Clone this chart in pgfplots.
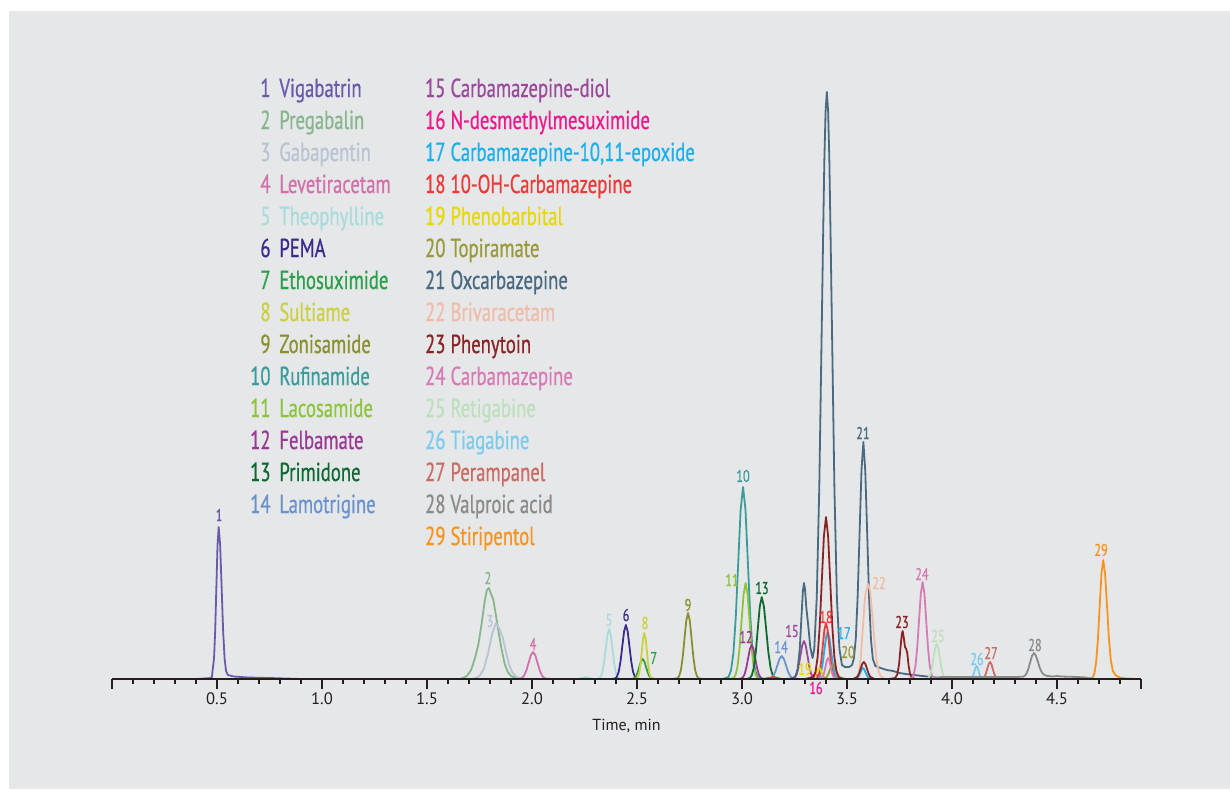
\documentclass[border=0pt]{standalone}
\usepackage{pgfplots}
\pgfplotsset{compat=1.18}
\usepackage{fontspec}
\setmainfont{PT Sans}
\newfontfamily\cond[FakeStretch=0.72,FakeBold=0.7]{PT Sans}

\definecolor{bg}{HTML}{E6E7E8}
\definecolor{ink}{HTML}{231F20}
\definecolor{c1}{HTML}{6A5AAA}
\definecolor{c2}{HTML}{86B58E}
\definecolor{c3}{HTML}{B8C4D4}
\definecolor{c4}{HTML}{D370AC}
\definecolor{c5}{HTML}{A8DCDC}
\definecolor{c6}{HTML}{3A2A8C}
\definecolor{c7}{HTML}{2BA04A}
\definecolor{c8}{HTML}{CCD040}
\definecolor{c9}{HTML}{8A9030}
\definecolor{c10}{HTML}{3A9C9C}
\definecolor{c11}{HTML}{8CC43C}
\definecolor{c12}{HTML}{9A3A94}
\definecolor{c13}{HTML}{0E6A32}
\definecolor{c14}{HTML}{6A92CC}
\definecolor{c15}{HTML}{9A4A9A}
\definecolor{c16}{HTML}{EC1A8C}
\definecolor{c17}{HTML}{1AB0EC}
\definecolor{c18}{HTML}{EC3A3A}
\definecolor{c19}{HTML}{E6D800}
\definecolor{c20}{HTML}{9A9A3A}
\definecolor{c21}{HTML}{4A6A82}
\definecolor{c22}{HTML}{F0BCA8}
\definecolor{c23}{HTML}{8A2424}
\definecolor{c24}{HTML}{D87AB4}
\definecolor{c25}{HTML}{BCE0BC}
\definecolor{c26}{HTML}{7ACCEE}
\definecolor{c27}{HTML}{CC6A64}
\definecolor{c28}{HTML}{8A8A8A}
\definecolor{c29}{HTML}{F7941D}

\newcommand{\legfont}{\cond\fontsize{13}{15}\selectfont}
\newcommand{\pkfont}{\cond\fontsize{8.5}{9}\selectfont}
% colour, x of number (east), x of name (west), y baseline, number, name
\newcommand{\legitem}[6]{%
  \node[anchor=base east,text=#1,font=\legfont,inner sep=0pt] at (axis cs:#2,#4) {#5};%
  \node[anchor=base west,text=#1,font=\legfont,inner sep=0pt] at (axis cs:#3,#4) {#6};}
\newcommand{\pk}[4]{\node[text=#1,font=\pkfont,inner sep=0pt] at (axis cs:#2,#3) {#4};}

\begin{document}
\begin{tikzpicture}
% page and grey panel (1 px = 0.5 pt, axis origin at pixel 112,679)
\fill[white] (-56pt,-55pt) rectangle (559pt,339.5pt);
\fill[bg] (-51.5pt,-55pt) rectangle (559pt,334pt);
\begin{axis}[
  at={(0,0)}, anchor=south west,
  x=105pt, y=0.5pt,
  xmin=0, xmax=4.9, ymin=0, ymax=600,
  axis x line*=bottom, axis y line=none,
  axis on top, clip=false,
  axis line style={line width=1.1pt, ink},
  tick align=outside,
  major tick length=5pt, minor tick length=2.5pt,
  tick style={line width=0.75pt, ink},
  xtick={0.5,1,1.5,2,2.5,3,3.5,4,4.5},
  xticklabels={0.5,1.0,1.5,2.0,2.5,3.0,3.5,4.0,4.5},
  extra x ticks={0,4.9}, extra x tick labels={},
  minor xtick={0,0.1,...,4.9},
  xticklabel style={font=\fontsize{8.3}{9}\selectfont, text=ink, yshift=1.8pt},
  xlabel={Time, min},
  xlabel style={at={(axis cs:2.45,-47)}, anchor=center, font=\fontsize{8}{9}\selectfont, text=ink},
  every axis plot/.append style={line width=0.9pt, line join=round},
]
% 1 Vigabatrin
\addplot[c1] coordinates {(0.40,0)(0.475,1)(0.486,21)(0.4915,49)(0.497,92)(0.5025,134)(0.508,152)(0.515,134)(0.522,92)(0.529,49)(0.536,21)(0.543,8)(0.552,4)(0.58,2.5)(0.65,1.5)(0.75,1)(0.9,0)(1.0,0)};
% 2 Pregabalin
\addplot[c2] coordinates {(1.60,0)(1.66,0)(1.69,3)(1.71,9)(1.73,22)(1.745,35)(1.76,55)(1.775,78)(1.785,89)(1.795,91)(1.805,85)(1.815,80)(1.825,68)(1.84,48)(1.855,30)(1.87,15)(1.885,7)(1.90,3)(1.93,0.5)(1.96,0)(2.0,0)};
% 3 Gabapentin
\addplot[c3] coordinates {(1.70,0)(1.72,0)(1.75,3)(1.77,10)(1.79,25)(1.81,45)(1.828,56)(1.845,50)(1.86,42)(1.875,28)(1.89,15)(1.905,7)(1.92,3)(1.95,0)(2.0,0)};
% 4 Levetiracetam
\addplot[c4] coordinates {(1.92,0)(1.942,0.3)(1.9525,1.2)(1.963,3.6)(1.9735,8.8)(1.984,16.4)(1.9945,23.8)(2.005,27)(2.0155,23.8)(2.026,16.4)(2.0365,8.8)(2.047,3.6)(2.0575,1.2)(2.068,0.3)(2.09,0)};
% 5 Theophylline
\addplot[c5] coordinates {(2.22,0)(2.256,2)(2.29,0)(2.31,0)(2.319,0.6)(2.327,2.2)(2.335,6.8)(2.343,16.3)(2.351,30.4)(2.359,44.1)(2.367,50)(2.375,44.1)(2.383,30.4)(2.391,16.3)(2.399,6.8)(2.407,2.2)(2.415,0.6)(2.43,0)};
% 6 PEMA
\addplot[c6] coordinates {(2.38,0)(2.396,0.6)(2.4045,2.4)(2.413,7.3)(2.4215,17.6)(2.430,32.8)(2.4385,47.6)(2.447,54)(2.4555,47.6)(2.464,32.8)(2.4725,17.6)(2.481,7.3)(2.4895,2.4)(2.498,0.6)(2.51,0)};
% 7 Ethosuximide
\addplot[c7] coordinates {(2.46,0)(2.479,0.2)(2.487,0.9)(2.495,2.7)(2.503,6.5)(2.511,12.1)(2.519,17.6)(2.527,20)(2.535,17.6)(2.543,12.1)(2.551,6.5)(2.559,2.7)(2.567,0.9)(2.575,0.2)(2.59,0)};
% 8 Sultiame
\addplot[c8] coordinates {(2.48,0)(2.499,0.5)(2.505,2.0)(2.511,6.2)(2.517,15)(2.523,27.9)(2.529,40.6)(2.535,46)(2.541,40.6)(2.547,27.9)(2.553,15)(2.559,6.2)(2.565,2.0)(2.571,0.5)(2.59,0)};
% 9 Zonisamide
\addplot[c9] coordinates {(2.67,0)(2.692,0.7)(2.7005,2.9)(2.709,8.9)(2.7175,21.5)(2.726,40.1)(2.7345,58.2)(2.743,66)(2.7515,58.2)(2.760,40.1)(2.7685,21.5)(2.777,8.9)(2.7855,2.9)(2.794,0.7)(2.81,0)};
% 10 Rufinamide
\addplot[c10] coordinates {(2.91,0)(2.936,2.1)(2.9475,8.4)(2.959,25.9)(2.9705,62.4)(2.982,116.5)(2.9935,169.3)(3.005,192)(3.0165,169.3)(3.028,116.5)(3.0395,62.4)(3.051,25.9)(3.0625,8.4)(3.074,2.1)(3.10,0)};
% 11 Lacosamide
\addplot[c11] coordinates {(2.94,0)(2.96,1.1)(2.9695,4.2)(2.979,13)(2.9885,31.2)(2.998,58.3)(3.0075,84.7)(3.017,96)(3.0265,84.7)(3.036,58.3)(3.0455,31.2)(3.055,13)(3.0645,4.2)(3.074,1.1)(3.09,0)};
% 12 Felbamate
\addplot[c12] coordinates {(2.98,0)(2.995,0.4)(3.0035,1.5)(3.012,4.6)(3.0205,11.1)(3.029,20.6)(3.0375,30)(3.046,34)(3.0545,30)(3.063,20.6)(3.0715,11.1)(3.080,4.6)(3.0885,1.5)(3.097,0.4)(3.11,0)};
% 13 Primidone
\addplot[c13] coordinates {(3.02,0)(3.037,0.9)(3.0465,3.6)(3.056,11.1)(3.0655,26.7)(3.075,49.8)(3.0845,72.3)(3.094,82)(3.1045,72.3)(3.115,49.8)(3.1255,26.7)(3.136,11.1)(3.1465,3.6)(3.157,0.9)(3.17,0)};
% 14 Lamotrigine
\addplot[c14] coordinates {(3.11,0)(3.129,0.3)(3.139,1)(3.149,3.1)(3.159,7.5)(3.169,14)(3.179,20.3)(3.189,23)(3.199,20.3)(3.209,14)(3.219,7.5)(3.229,3.1)(3.239,1)(3.249,0.3)(3.27,0)};
% 15 Carbamazepine-diol
\addplot[c15] coordinates {(3.23,0)(3.244,0.4)(3.2525,1.7)(3.261,5.1)(3.2695,12.4)(3.278,23.1)(3.2865,33.5)(3.295,38)(3.3035,33.5)(3.312,23.1)(3.3205,12.4)(3.329,5.1)(3.3375,1.7)(3.346,0.4)(3.36,0)};
% 16 N-desmethylmesuximide
\addplot[c16] coordinates {(3.30,0)(3.324,0.7)(3.336,3)(3.342,4.4)(3.348,5)(3.354,4.4)(3.36,3)(3.372,0.7)(3.40,0)};
% 17 Carbamazepine-10,11-epoxide
\addplot[c17] coordinates {(3.34,0)(3.36,0.5)(3.368,2.1)(3.376,6.3)(3.384,15.3)(3.392,28.5)(3.40,41.5)(3.408,47)(3.416,41.5)(3.424,28.5)(3.432,15.3)(3.44,6.3)(3.448,2.1)(3.456,0.5)(3.50,0)(3.54,0)(3.552,1.5)(3.564,6.7)(3.570,9.7)(3.576,11)(3.582,9.7)(3.588,6.7)(3.60,1.5)(3.63,0)};
% 18 10-OH-Carbamazepine
\addplot[c18] coordinates {(3.10,0)(3.15,2)(3.19,0)(3.35,0)(3.355,0.6)(3.3625,2.5)(3.37,7.6)(3.3775,18.2)(3.385,34)(3.3925,49.4)(3.40,56)(3.4075,49.4)(3.415,34)(3.4225,18.2)(3.43,7.6)(3.4375,2.5)(3.445,0.6)(3.48,0)};
% 19 Phenobarbital
\addplot[c19] coordinates {(3.32,0)(3.343,1.5)(3.349,3.6)(3.355,6.7)(3.361,9.7)(3.367,11)(3.373,9.7)(3.379,6.7)(3.385,3.6)(3.391,1.5)(3.41,0)};
% 20 Topiramate
\addplot[c20] coordinates {(3.38,0)(3.403,2)(3.4105,4.9)(3.418,9.1)(3.4255,13.2)(3.433,15)(3.4405,13.2)(3.448,9.1)(3.4555,4.9)(3.463,2)(3.49,0)};
% 21 Oxcarbazepine
\addplot[c21] coordinates {(3.20,0)(3.24,0.5)(3.255,3)(3.265,10)(3.275,30)(3.283,62)(3.290,88)(3.295,96)(3.300,90)(3.306,72)(3.312,60)(3.318,48)(3.325,32)(3.336,21)(3.344,30)(3.356,82)(3.368,192)(3.38,356)(3.386,440)(3.392,518)(3.398,568)(3.404,587)(3.41,568)(3.416,518)(3.422,440)(3.428,356)(3.44,191)(3.452,80)(3.464,30)(3.476,14)(3.49,12)(3.51,12)(3.524,14)(3.533,21)(3.542,41)(3.551,84)(3.56,147)(3.569,209)(3.578,237)(3.587,208)(3.596,146)(3.605,82)(3.614,40)(3.623,20)(3.635,13)(3.66,11)(3.69,9)(3.72,8)(3.75,6)(3.78,5)(3.82,4)(3.86,3)(3.9,2)(3.95,1)(4.0,0)(4.1,0)};
% 22 Brivaracetam
\addplot[c22] coordinates {(3.50,0)(3.54,0)(3.555,5)(3.565,20)(3.575,50)(3.585,80)(3.59,87)(3.595,90)(3.60,95)(3.61,88)(3.62,65)(3.63,40)(3.64,20)(3.65,8)(3.66,3)(3.68,0)(3.72,0)};
% 23 Phenytoin
\addplot[c23] coordinates {(3.30,0)(3.34,1.8)(3.35,7.1)(3.36,21.9)(3.37,52.7)(3.38,98.3)(3.39,142.9)(3.40,162)(3.41,142.9)(3.42,98.3)(3.43,52.7)(3.44,21.9)(3.45,7.1)(3.46,1.8)(3.48,0)(3.53,0)(3.55,2.3)(3.5575,5.5)(3.565,10.3)(3.5725,15)(3.58,17)(3.5875,15)(3.595,10.3)(3.6025,5.5)(3.61,2.3)(3.63,0)(3.70,0)(3.73,1)(3.74,5)(3.748,15)(3.755,32)(3.761,45)(3.765,48)(3.770,42)(3.776,32)(3.782,30)(3.787,26)(3.793,14)(3.80,5)(3.81,1)(3.83,0)(3.88,0)};
% 24 Carbamazepine
\addplot[c24] coordinates {(3.36,0)(3.386,2.9)(3.392,6.8)(3.398,12.7)(3.404,18.5)(3.41,21)(3.416,18.5)(3.422,12.7)(3.428,6.8)(3.434,2.9)(3.46,0)(3.79,0)(3.809,1.1)(3.8175,4.3)(3.826,13.1)(3.8345,31.5)(3.843,58.9)(3.8515,85.6)(3.86,97)(3.8685,85.6)(3.877,58.9)(3.8855,31.5)(3.894,13.1)(3.9025,4.3)(3.911,1.1)(3.94,0)};
% 25 Retigabine
\addplot[c25] coordinates {(3.87,0)(3.882,0.4)(3.8895,1.5)(3.897,4.7)(3.9045,11.4)(3.912,21.2)(3.9195,30.9)(3.927,35)(3.9345,30.9)(3.942,21.2)(3.9495,11.4)(3.957,4.7)(3.9645,1.5)(3.972,0.4)(3.99,0)};
% 26 Tiagabine
\addplot[c26] coordinates {(4.07,0)(4.087,0.1)(4.097,1.8)(4.102,4.2)(4.107,7.9)(4.112,11.5)(4.117,13)(4.122,11.5)(4.127,7.9)(4.132,4.2)(4.137,1.8)(4.147,0.1)(4.16,0)};
% 27 Perampanel
\addplot[c27] coordinates {(4.13,0)(4.142,0.2)(4.155,2.3)(4.1615,5.5)(4.168,10.3)(4.1745,15)(4.181,17)(4.1875,15)(4.194,10.3)(4.2005,5.5)(4.207,2.3)(4.22,0.2)(4.24,0)};
% 28 Valproic acid
\addplot[c28] coordinates {(3.90,0)(3.95,2)(4.1,2)(4.3,2)(4.336,2.3)(4.345,3)(4.354,5.2)(4.363,9.8)(4.372,16.6)(4.381,23.2)(4.39,26)(4.399,23.5)(4.408,18)(4.418,11)(4.428,6.5)(4.44,4)(4.455,3)(4.48,2.5)(4.5,3)(4.52,2.5)(4.6,2)(4.64,1.5)(4.66,0)(4.7,0)};
% 29 Stiripentol
\addplot[c29] coordinates {(4.62,0)(4.669,1.3)(4.6775,5.2)(4.686,16.1)(4.6945,38.7)(4.703,72.2)(4.7115,105)(4.72,119)(4.729,105.5)(4.738,74)(4.747,41)(4.756,19)(4.766,8)(4.78,3.5)(4.80,1.5)(4.83,0.5)(4.88,0)};

% peak numbers
\pk{c1}{0.510}{164}{1}
\pk{c2}{1.790}{101}{2}
\pk{c3}{1.800}{58}{3}
\pk{c4}{2.005}{35}{4}
\pk{c5}{2.367}{59}{5}
\pk{c6}{2.448}{64}{6}
\pk{c7}{2.580}{21}{7}
\pk{c8}{2.538}{56}{8}
\pk{c9}{2.743}{74}{9}
\pk{c10}{3.005}{203}{10}
\pk{c11}{2.952}{99}{11}
\pk{c12}{3.019}{42}{12}
\pk{c13}{3.095}{91}{13}
\pk{c14}{3.186}{32}{14}
\pk{c15}{3.238}{48}{15}
\pk{c16}{3.352}{-9}{16}
\pk{c17}{3.486}{46}{17}
\pk{c18}{3.400}{62}{18}
\pk{c19}{3.300}{10}{19}
\pk{c20}{3.505}{27}{20}
\pk{c21}{3.576}{246}{21}
\pk{c22}{3.652}{96}{22}
\pk{c23}{3.762}{57}{23}
\pk{c24}{3.857}{105}{24}
\pk{c25}{3.933}{43}{25}
\pk{c26}{4.119}{20}{26}
\pk{c27}{4.186}{26}{27}
\pk{c28}{4.395}{34}{28}
\pk{c29}{4.710}{129}{29}

% compound list
\legitem{c1}{0.757}{0.795}{582}{1}{Vigabatrin}
\legitem{c2}{0.757}{0.795}{550}{2}{Pregabalin}
\legitem{c3}{0.757}{0.795}{518}{3}{Gabapentin}
\legitem{c4}{0.757}{0.795}{486}{4}{Levetiracetam}
\legitem{c5}{0.757}{0.795}{454}{5}{Theophylline}
\legitem{c6}{0.757}{0.795}{422}{6}{PEMA}
\legitem{c7}{0.757}{0.795}{390}{7}{Ethosuximide}
\legitem{c8}{0.757}{0.795}{358}{8}{Sultiame}
\legitem{c9}{0.757}{0.795}{326}{9}{Zonisamide}
\legitem{c10}{0.757}{0.795}{294}{10}{Rufinamide}
\legitem{c11}{0.757}{0.795}{262}{11}{Lacosamide}
\legitem{c12}{0.757}{0.795}{230}{12}{Felbamate}
\legitem{c13}{0.757}{0.795}{198}{13}{Primidone}
\legitem{c14}{0.757}{0.795}{166}{14}{Lamotrigine}
\legitem{c15}{1.590}{1.610}{582}{15}{Carbamazepine-diol}
\legitem{c16}{1.590}{1.610}{550}{16}{N-desmethylmesuximide}
\legitem{c17}{1.590}{1.610}{518}{17}{Carbamazepine-10,11-epoxide}
\legitem{c18}{1.590}{1.610}{486}{18}{10-OH-Carbamazepine}
\legitem{c19}{1.590}{1.610}{454}{19}{Phenobarbital}
\legitem{c20}{1.590}{1.610}{422}{20}{Topiramate}
\legitem{c21}{1.590}{1.610}{390}{21}{Oxcarbazepine}
\legitem{c22}{1.590}{1.610}{358}{22}{Brivaracetam}
\legitem{c23}{1.590}{1.610}{326}{23}{Phenytoin}
\legitem{c24}{1.590}{1.610}{294}{24}{Carbamazepine}
\legitem{c25}{1.590}{1.610}{262}{25}{Retigabine}
\legitem{c26}{1.590}{1.610}{230}{26}{Tiagabine}
\legitem{c27}{1.590}{1.610}{198}{27}{Perampanel}
\legitem{c28}{1.590}{1.610}{166}{28}{Valproic acid}
\legitem{c29}{1.590}{1.610}{134}{29}{Stiripentol}
\end{axis}
\end{tikzpicture}
\end{document}
